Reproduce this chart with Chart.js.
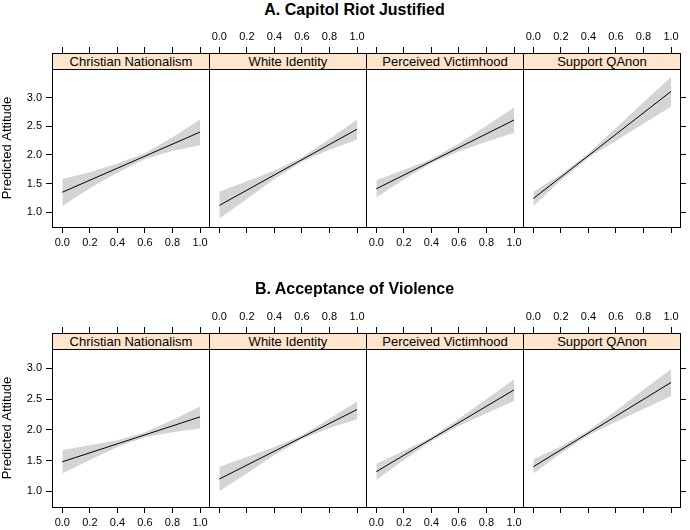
<!DOCTYPE html>
<html>
<head>
<meta charset="utf-8">
<script src="https://cdn.jsdelivr.net/npm/chart.js@4.4.1/dist/chart.umd.min.js"></script>
<style>
body { margin: 0; background: #fff; }
#page { position: relative; width: 690px; height: 530px; overflow: hidden; font-family: "Liberation Sans", Arial, sans-serif; }
canvas { position: absolute; left: 0; top: 0; }
.strip { position: absolute; box-sizing: border-box; width: 158px; height: 17px; border: 1px solid #000; background: #ffe5cc;
  font-size: 13px; line-height: 15px; text-align: center; color: #000; white-space: nowrap; z-index: 5; }
.rowtitle { position: absolute; left: 0; width: 709px; text-align: center; font-weight: bold; font-size: 16px; line-height: 20px; color: #000; }
</style>
</head>
<body>
<div id="page"></div>
<script>
// panels and rows
const panelNames = ['Christian Nationalism', 'White Identity', 'Perceived Victimhood', 'Support QAnon'];
const rowNames = ['A. Capitol Riot Justified', 'B. Acceptance of Violence'];
const xTicks = [0, 0.2, 0.4, 0.6, 0.8, 1.0];
const yTicks = [1.0, 1.5, 2.0, 2.5, 3.0];
const bandX = [0, 0.2, 0.4, 0.6, 0.8, 1.0];

// A. fitted line at x=0 and x=1, then confidence band at bandX
const riotFit = [[1.35, 2.40], [1.12, 2.45], [1.41, 2.61], [1.24, 3.11]];
const riotUpper = [
  [1.58, 1.70, 1.85, 2.03, 2.31, 2.62],
  [1.36, 1.54, 1.73, 1.96, 2.28, 2.62],
  [1.56, 1.74, 1.93, 2.20, 2.51, 2.83],
  [1.36, 1.66, 2.03, 2.47, 2.92, 3.36]
];
const riotLower = [
  [1.11, 1.42, 1.69, 1.93, 2.07, 2.17],
  [0.89, 1.23, 1.58, 1.88, 2.09, 2.27],
  [1.26, 1.57, 1.86, 2.06, 2.23, 2.39],
  [1.11, 1.56, 1.95, 2.25, 2.55, 2.84]
];

// B.
const violFit = [[1.48, 2.21], [1.20, 2.33], [1.32, 2.65], [1.40, 2.77]];
const violUpper = [
  [1.67, 1.75, 1.83, 1.96, 2.16, 2.38],
  [1.40, 1.56, 1.72, 1.91, 2.18, 2.46],
  [1.45, 1.66, 1.88, 2.18, 2.50, 2.82],
  [1.52, 1.73, 1.99, 2.31, 2.65, 2.99]
];
const violLower = [
  [1.29, 1.51, 1.72, 1.88, 1.96, 2.02],
  [1.00, 1.29, 1.59, 1.85, 2.03, 2.17],
  [1.19, 1.51, 1.82, 2.06, 2.27, 2.47],
  [1.29, 1.62, 1.91, 2.13, 2.34, 2.55]
];

const fits = [riotFit, violFit];
const uppers = [riotUpper, violUpper];
const lowers = [riotLower, violLower];

// layout
const panelLeft = [52, 209, 366, 523];
const panelW = 157;
const xMin = -0.075, xMax = 1.065;
const rows = [
  { top: 69, bottom: 227, stripTop: 53, ymin: 0.743, ymax: 3.501, titleTop: 0 },
  { top: 349, bottom: 507, stripTop: 333, ymin: 0.745, ymax: 3.314, titleTop: 279 }
];

Chart.defaults.font.family = '"Liberation Sans", Arial, sans-serif';
Chart.defaults.font.size = 11;
Chart.defaults.color = '#000';

const frame = {
  id: 'frame',
  afterDatasetsDraw(chart) {
    const a = chart.chartArea, c = chart.ctx;
    c.save();
    c.strokeStyle = '#000';
    c.lineWidth = 1;
    c.strokeRect(a.left + 0.5, a.top + 0.5, a.right - a.left, a.bottom - a.top);
    c.restore();
  }
};

const page = document.getElementById('page');

function makePanel(r, i) {
  const row = rows[r];
  const fit = fits[r][i], up = uppers[r][i], lo = lowers[r][i];
  const left = panelLeft[i], right = left + panelW;
  const first = i === 0, last = i === 3;
  const labelsTop = i % 2 === 1;

  const cv = document.createElement('canvas');
  cv.width = 690; cv.height = 530;
  page.appendChild(cv);

  const strip = document.createElement('div');
  strip.className = 'strip';
  strip.style.left = left + 'px';
  strip.style.top = row.stripTop + 'px';
  strip.textContent = panelNames[i];
  page.appendChild(strip);

  const setX = s => { s.ticks = xTicks.map(v => ({ value: v })); };
  const xOpts = (pos, showLabels, tl, h) => ({
    type: 'linear', position: pos, min: xMin, max: xMax,
    afterBuildTicks: setX,
    afterFit: s => { s.height = h; },
    grid: { drawOnChartArea: false, tickLength: tl, tickColor: '#000', tickWidth: 1 },
    border: { display: false },
    ticks: { display: showLabels, padding: 3, autoSkip: false, maxRotation: 0, font: { size: 11 },
      callback: v => v.toFixed(1) }
  });

  new Chart(cv, {
    type: 'line',
    data: {
      datasets: [
        { data: [{ x: 0, y: fit[0] }, { x: 1, y: fit[1] }], borderColor: '#000', borderWidth: 1,
          pointRadius: 0, fill: false, xAxisID: 'xb', yAxisID: 'y' },
        { data: bandX.map((x, k) => ({ x: x, y: up[k] })), borderColor: 'rgba(0,0,0,0)', borderWidth: 1,
          pointRadius: 0, fill: false, xAxisID: 'xb', yAxisID: 'y' },
        { data: bandX.map((x, k) => ({ x: x, y: lo[k] })), borderColor: 'rgba(0,0,0,0)', borderWidth: 1,
          pointRadius: 0, fill: '-1', backgroundColor: '#d4d4d4', xAxisID: 'xb', yAxisID: 'y' }
      ]
    },
    options: {
      responsive: false, animation: false, devicePixelRatio: 1,
      layout: { padding: { left: first ? 0 : left, right: last ? 0 : 690 - right,
        top: row.top - 40, bottom: 530 - row.bottom - 22 } },
      plugins: { legend: { display: false }, tooltip: { enabled: false } },
      elements: { line: { tension: 0 } },
      scales: {
        xb: xOpts('bottom', !labelsTop, 6, 22),
        xt: xOpts('top', labelsTop, 22, 40),
        y: {
          type: 'linear', position: last ? 'right' : 'left', display: first || last,
          min: row.ymin, max: row.ymax,
          afterBuildTicks: s => { s.ticks = yTicks.map(v => ({ value: v })); },
          afterFit: s => { s.width = first ? 52 : (last ? 10 : 0); },
          grid: { drawOnChartArea: false, tickLength: 6, tickColor: '#000', tickWidth: 1 },
          border: { display: false },
          ticks: { display: first, padding: 4, autoSkip: false, font: { size: 11 },
            callback: v => v.toFixed(1) },
          title: { display: first, text: 'Predicted Attitude', font: { size: 13 }, padding: 0, color: '#000' }
        }
      }
    },
    plugins: [frame]
  });
}

rows.forEach((row, r) => {
  const t = document.createElement('div');
  t.className = 'rowtitle';
  t.style.top = row.titleTop + 'px';
  t.textContent = rowNames[r];
  page.appendChild(t);
  for (let i = 0; i < 4; i++) makePanel(r, i);
});
</script>
</body>
</html>
